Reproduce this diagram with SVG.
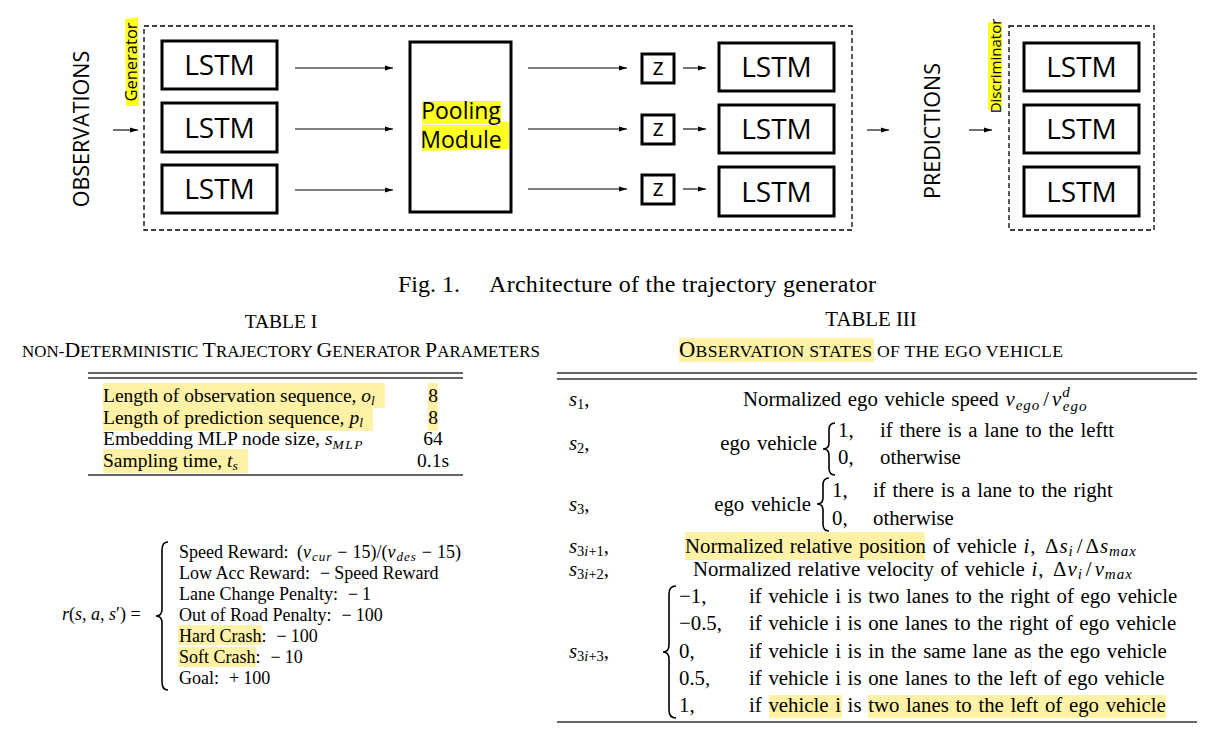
<svg xmlns="http://www.w3.org/2000/svg" width="1207" height="733" viewBox="0 0 1207 733">
<style>
.box{fill:#fff;stroke:#000;stroke-width:3}
.dash{fill:none;stroke:#000;stroke-width:1.3;stroke-dasharray:5 3}
.arr{stroke:#000;stroke-width:1.1;fill:none;marker-end:url(#ah)}
.ss{font-family:"Open Sans","DejaVu Sans",sans-serif;fill:#000}
.lstm{font-size:28px;text-anchor:middle}
.sr{font-family:"Liberation Serif","Times New Roman",serif;fill:#000}
.t1{font-size:19.5px}
.t3{font-size:20.8px;word-spacing:1.5px}
.rw{font-size:18px}
.it{font-style:italic}
.m{font-style:italic;letter-spacing:1px}
.hl{fill:#fff2a6}
.hy{fill:#ffff22}
.rule{stroke:#333;stroke-width:1.3}
.brace{fill:none;stroke:#000;stroke-width:1.6}
</style>
<defs>
<marker id="ah" markerUnits="userSpaceOnUse" markerWidth="8" markerHeight="6" refX="8" refY="3" orient="auto">
<path d="M0,0.5 L8,3 L0,5.5 z" fill="#000"/>
</marker>
</defs>
<rect width="1207" height="733" fill="#fff"/>

<!-- ===== Figure 1 ===== -->
<g id="observations"><text class="ss" font-size="21.5" text-anchor="middle" transform="translate(89,129) rotate(-90)">OBSERVATIONS</text></g>
<g id="generator">
<rect class="dash" x="144" y="26" width="708" height="204"/>
<polygon class="hy" points="125,19 138,17 139,106 126,106"/>
<text class="ss" font-size="16.5" text-anchor="middle" transform="translate(137,62) rotate(-90)">Generator</text>
</g>
<g id="lstm-g1"><rect class="box" x="162" y="41" width="115" height="48"/><text class="ss lstm" x="219.5" y="75">LSTM</text></g>
<g id="lstm-g2"><rect class="box" x="162" y="103" width="115" height="49"/><text class="ss lstm" x="219.5" y="137.5">LSTM</text></g>
<g id="lstm-g3"><rect class="box" x="162" y="165" width="115" height="48"/><text class="ss lstm" x="219.5" y="199">LSTM</text></g>
<g id="pooling">
<rect class="box" x="410" y="42" width="101" height="170"/>
<rect class="hy" x="422" y="101" width="79" height="23"/>
<polygon class="hy" points="422,125 500,125 500,122 509,122 509,149 422,151"/>
<text class="ss" font-size="23" text-anchor="middle" x="461" y="119">Pooling</text>
<text class="ss" font-size="23" text-anchor="middle" x="461" y="148">Module</text>
</g>
<g id="z1"><rect class="box" x="642" y="54" width="32" height="29"/><text class="ss" font-size="24" text-anchor="middle" x="658" y="75">z</text></g>
<g id="z2"><rect class="box" x="642" y="115" width="32" height="29"/><text class="ss" font-size="24" text-anchor="middle" x="658" y="136">z</text></g>
<g id="z3"><rect class="box" x="642" y="175" width="32" height="29"/><text class="ss" font-size="24" text-anchor="middle" x="658" y="196">z</text></g>
<g id="lstm-d1"><rect class="box" x="719" y="43" width="115" height="48"/><text class="ss lstm" x="776.5" y="77">LSTM</text></g>
<g id="lstm-d2"><rect class="box" x="719" y="105" width="115" height="48"/><text class="ss lstm" x="776.5" y="139">LSTM</text></g>
<g id="lstm-d3"><rect class="box" x="719" y="167" width="115" height="49"/><text class="ss lstm" x="776.5" y="201.5">LSTM</text></g>
<g id="predictions"><text class="ss" font-size="21.5" text-anchor="middle" transform="translate(940,131) rotate(-90)">PREDICTIONS</text></g>
<g id="discriminator">
<rect class="dash" x="1009" y="26" width="145" height="204"/>
<rect class="hy" x="988" y="22" width="14" height="88"/>
<text class="ss" font-size="15" text-anchor="middle" transform="translate(1001,66) rotate(-90)">Discriminator</text>
</g>
<g id="lstm-c1"><rect class="box" x="1024" y="43" width="115" height="48"/><text class="ss lstm" x="1081.5" y="77">LSTM</text></g>
<g id="lstm-c2"><rect class="box" x="1024" y="105" width="115" height="48"/><text class="ss lstm" x="1081.5" y="139">LSTM</text></g>
<g id="lstm-c3"><rect class="box" x="1024" y="167" width="115" height="49"/><text class="ss lstm" x="1081.5" y="201.5">LSTM</text></g>

<g id="connectors">
<line class="arr" x1="113" y1="130" x2="138" y2="130"/>
<line class="arr" x1="295" y1="68" x2="393" y2="68"/>
<line class="arr" x1="295" y1="129" x2="393" y2="129"/>
<line class="arr" x1="295" y1="190" x2="393" y2="190"/>
<line class="arr" x1="528" y1="68" x2="627" y2="68"/>
<line class="arr" x1="528" y1="129" x2="627" y2="129"/>
<line class="arr" x1="528" y1="189" x2="627" y2="189"/>
<line class="arr" x1="683" y1="68" x2="706" y2="68"/>
<line class="arr" x1="683" y1="129" x2="706" y2="129"/>
<line class="arr" x1="683" y1="189" x2="706" y2="189"/>
<line class="arr" x1="867" y1="130" x2="889" y2="130"/>
<line class="arr" x1="969" y1="130" x2="992" y2="130"/>
</g>

<!-- caption -->
<text class="sr" font-size="24" x="398" y="292">Fig. 1.</text>
<text class="sr" font-size="24" x="489" y="292" textLength="387" lengthAdjust="spacing">Architecture of the trajectory generator</text>

<!-- ===== Table I ===== -->
<g id="table1">
<text class="sr t1" x="281" y="328" text-anchor="middle">TABLE I</text>
<text class="sr" font-size="21.7" x="22" y="357" textLength="518" lengthAdjust="spacing"><tspan font-size="16.9">NON-</tspan>D<tspan font-size="16.9">ETERMINISTIC </tspan>T<tspan font-size="16.9">RAJECTORY </tspan>G<tspan font-size="16.9">ENERATOR </tspan>P<tspan font-size="16.9">ARAMETERS</tspan></text>
<line class="rule" x1="88" y1="373" x2="463" y2="373"/>
<line class="rule" x1="88" y1="378" x2="463" y2="378"/>
<rect class="hl" x="103" y="383" width="282" height="25"/>
<rect class="hl" x="103" y="408" width="270" height="23"/>
<rect class="hl" x="103" y="449" width="145" height="24"/>
<rect class="hl" x="428" y="383" width="10" height="48"/>
<text class="sr t1" x="103" y="402">Length of observation sequence, <tspan class="it">o</tspan><tspan class="it" font-size="13.5" dy="3">l</tspan></text>
<text class="sr t1" x="103" y="424">Length of prediction sequence, <tspan class="it">p</tspan><tspan class="it" font-size="13.5" dy="3">l</tspan></text>
<text class="sr t1" x="103" y="445">Embedding MLP node size, <tspan class="it">s</tspan><tspan class="it" font-size="13.5" dy="4" letter-spacing="1.5">MLP</tspan></text>
<text class="sr t1" x="103" y="467">Sampling time, <tspan class="it">t</tspan><tspan class="it" font-size="13.5" dy="3">s</tspan></text>
<text class="sr t1" x="433" y="402" text-anchor="middle">8</text>
<text class="sr t1" x="433" y="424" text-anchor="middle">8</text>
<text class="sr t1" x="433" y="445" text-anchor="middle">64</text>
<text class="sr t1" x="433" y="467" text-anchor="middle">0.1s</text>
<line class="rule" x1="88" y1="475" x2="463" y2="475"/>
</g>

<!-- ===== Reward ===== -->
<g id="reward">
<rect class="hl" x="178" y="625" width="84" height="20"/>
<rect class="hl" x="178" y="647" width="78" height="20"/>
<text class="sr rw" x="62" y="620"><tspan class="it">r</tspan>(<tspan class="it">s</tspan>, <tspan class="it">a</tspan>, <tspan class="it">s</tspan>′) =</text>
<path class="brace" d="M168,542 Q162,542 162,550 L162,609 Q162,616 156,616 Q162,616 162,623 L162,682 Q162,690 168,690"/>
<text class="sr rw" x="179" y="558">Speed Reward: <tspan dx="4">(</tspan><tspan class="m">v</tspan><tspan class="m" font-size="13" dy="3">cur</tspan><tspan dy="-3" dx="5">−</tspan><tspan dx="5">15)/(</tspan><tspan class="m">v</tspan><tspan class="m" font-size="13" dy="3">des</tspan><tspan dy="-3" dx="5">−</tspan><tspan dx="5">15)</tspan></text>
<text class="sr rw" x="179" y="579">Low Acc Reward:<tspan dx="10">−</tspan><tspan dx="4">Speed Reward</tspan></text>
<text class="sr rw" x="179" y="600">Lane Change Penalty:<tspan dx="10">−</tspan><tspan dx="4">1</tspan></text>
<text class="sr rw" x="179" y="621">Out of Road Penalty:<tspan dx="10">−</tspan><tspan dx="4">100</tspan></text>
<text class="sr rw" x="179" y="642">Hard Crash:<tspan dx="10">−</tspan><tspan dx="4">100</tspan></text>
<text class="sr rw" x="179" y="663">Soft Crash:<tspan dx="10">−</tspan><tspan dx="4">10</tspan></text>
<text class="sr rw" x="179" y="684">Goal:<tspan dx="10">+</tspan><tspan dx="4">100</tspan></text>
</g>

<!-- ===== Table III ===== -->
<g id="table3">
<rect class="hl" x="679" y="338" width="195" height="24"/>
<text class="sr" font-size="20.8" x="871" y="326" text-anchor="middle">TABLE III</text>
<text class="sr" font-size="22.6" x="679" y="357" textLength="384" lengthAdjust="spacing">O<tspan font-size="17.7">BSERVATION STATES OF THE EGO VEHICLE</tspan></text>
<line class="rule" x1="557" y1="373" x2="1197" y2="373"/>
<line class="rule" x1="557" y1="379" x2="1197" y2="379"/>

<text class="sr t3" x="569" y="406"><tspan class="it">s</tspan><tspan font-size="14.5" dy="3">1</tspan><tspan dy="-3">,</tspan></text>
<text class="sr t3" x="743" y="406">Normalized ego vehicle speed <tspan class="m">v</tspan><tspan class="m" font-size="15" dy="4">ego</tspan><tspan dy="-4" dx="3">/</tspan><tspan class="m" dx="3">v</tspan><tspan class="m" font-size="15" dy="-9">d</tspan><tspan class="m" font-size="15" dx="-8" dy="14">ego</tspan></text>

<text class="sr t3" x="569" y="450"><tspan class="it">s</tspan><tspan font-size="14.5" dy="3">2</tspan><tspan dy="-3">,</tspan></text>
<text class="sr t3" x="817" y="450" text-anchor="end">ego vehicle</text>
<path class="brace" d="M835,423 Q829,423 829,430 L829,443 Q829,449 823,449 Q829,449 829,455 L829,468 Q829,475 835,475"/>
<text class="sr t3" x="838" y="437">1,</text>
<text class="sr t3" x="880" y="437">if there is a lane to the leftt</text>
<text class="sr t3" x="838" y="464">0,</text>
<text class="sr t3" x="880" y="464">otherwise</text>

<text class="sr t3" x="569" y="511"><tspan class="it">s</tspan><tspan font-size="14.5" dy="3">3</tspan><tspan dy="-3">,</tspan></text>
<text class="sr t3" x="811" y="511" text-anchor="end">ego vehicle</text>
<path class="brace" d="M829,478 Q823,478 823,485 L823,498 Q823,504 817,504 Q823,504 823,510 L823,524 Q823,531 829,531"/>
<text class="sr t3" x="832" y="497">1,</text>
<text class="sr t3" x="873" y="497">if there is a lane to the right</text>
<text class="sr t3" x="832" y="525">0,</text>
<text class="sr t3" x="873" y="525">otherwise</text>

<rect class="hl" x="685" y="532" width="240" height="28"/>
<text class="sr t3" x="569" y="553"><tspan class="it">s</tspan><tspan font-size="14.5" dy="3">3</tspan><tspan class="it" font-size="14.5">i</tspan><tspan font-size="14.5">+1</tspan><tspan dy="-3">,</tspan></text>
<text class="sr t3" x="685" y="553">Normalized relative position of vehicle <tspan class="m">i</tspan>, <tspan dx="3">Δ</tspan><tspan class="m" dx="1">s</tspan><tspan class="m" font-size="15" dy="3">i</tspan><tspan dy="-3" dx="3">/</tspan><tspan dx="3">Δ</tspan><tspan class="m" dx="1">s</tspan><tspan class="m" font-size="15" dy="3" letter-spacing="2.5">max</tspan></text>
<text class="sr t3" x="569" y="576"><tspan class="it">s</tspan><tspan font-size="14.5" dy="3">3</tspan><tspan class="it" font-size="14.5">i</tspan><tspan font-size="14.5">+2</tspan><tspan dy="-3">,</tspan></text>
<text class="sr t3" x="693" y="576">Normalized relative velocity of vehicle <tspan class="m">i</tspan>, <tspan dx="3">Δ</tspan><tspan class="m" dx="1">v</tspan><tspan class="m" font-size="15" dy="3">i</tspan><tspan dy="-3" dx="3">/</tspan><tspan class="m" dx="3">v</tspan><tspan class="m" font-size="15" dy="3" letter-spacing="2.5">max</tspan></text>

<text class="sr t3" x="569" y="658"><tspan class="it">s</tspan><tspan font-size="14.5" dy="3">3</tspan><tspan class="it" font-size="14.5">i</tspan><tspan font-size="14.5">+3</tspan><tspan dy="-3">,</tspan></text>
<path class="brace" d="M676,586 Q669,586 669,594 L669,645 Q669,652 663,652 Q669,652 669,659 L669,710 Q669,718 676,718"/>
<rect class="hl" x="769" y="695" width="73" height="23"/>
<rect class="hl" x="868" y="695" width="298" height="23"/>
<text class="sr t3" x="679" y="603">−1,</text>
<text class="sr t3" x="679" y="630">−0.5,</text>
<text class="sr t3" x="679" y="658">0,</text>
<text class="sr t3" x="679" y="685">0.5,</text>
<text class="sr t3" x="679" y="712">1,</text>
<text class="sr t3" x="749" y="603">if vehicle i is two lanes to the right of ego vehicle</text>
<text class="sr t3" x="749" y="630">if vehicle i is one lanes to the right of ego vehicle</text>
<text class="sr t3" x="749" y="658">if vehicle i is in the same lane as the ego vehicle</text>
<text class="sr t3" x="749" y="685">if vehicle i is one lanes to the left of ego vehicle</text>
<text class="sr t3" x="749" y="712">if vehicle i is two lanes to the left of ego vehicle</text>
<line class="rule" x1="557" y1="722" x2="1197" y2="722"/>
</g>
</svg>
